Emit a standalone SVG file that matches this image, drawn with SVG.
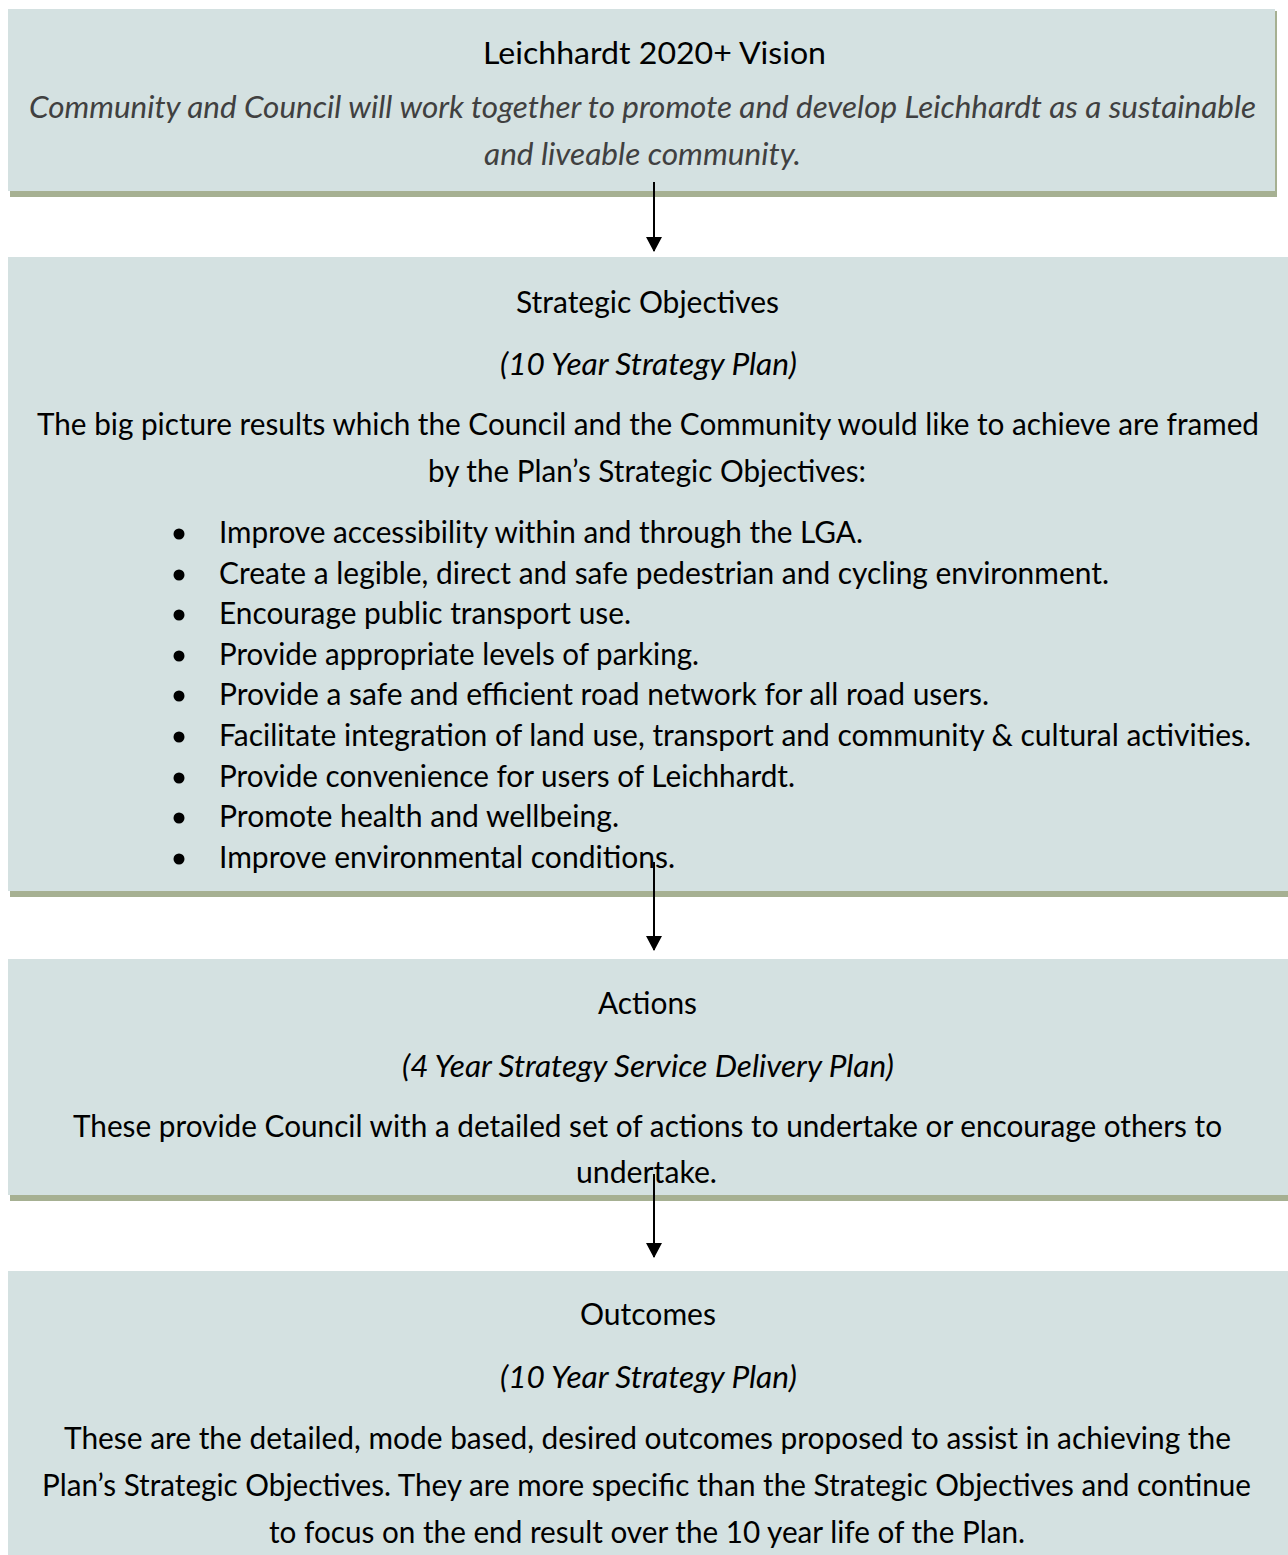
<svg xmlns="http://www.w3.org/2000/svg" width="1288" height="1555" viewBox="0 0 1288 1555">
<defs>
<style>
.box{fill:#d4e1e1}
.shadow{fill:#a6b092}
.t{font-family:Lato,"Liberation Sans",sans-serif;font-size:30px;fill:#000}
.i{font-style:italic}
.g{fill:#404040}
.conn line{stroke:#000;stroke-width:2}
</style>
<marker id="ah" markerWidth="16" markerHeight="16" refX="14" refY="8" orient="auto" markerUnits="userSpaceOnUse" viewBox="0 0 16 16">
<path d="M0,0 L15,8 L0,16 Z" fill="#000"/>
</marker>
</defs>
<rect width="1288" height="1555" fill="#fff"/>
<g id="vision">
<rect class="shadow" x="10" y="11" width="1267" height="186"/>
<rect class="box" x="8" y="9" width="1267" height="182"/>
<text class="t" x="483" y="64" textLength="343" lengthAdjust="spacingAndGlyphs">Leichhardt 2020+ Vision</text>
<text class="t i g" x="29" y="118" textLength="1227" lengthAdjust="spacingAndGlyphs">Community and Council will work together to promote and develop Leichhardt as a sustainable</text>
<text class="t i g" x="484" y="165" textLength="317" lengthAdjust="spacingAndGlyphs">and liveable community.</text>
</g>
<g id="objectives">
<rect class="shadow" x="10" y="259" width="1278" height="638"/>
<rect class="box" x="8" y="257" width="1280" height="634"/>
<text class="t" x="516" y="313" textLength="263" lengthAdjust="spacingAndGlyphs">Strategic Objectives</text>
<text class="t i" x="500" y="375" textLength="297" lengthAdjust="spacingAndGlyphs">(10 Year Strategy Plan)</text>
<text class="t" x="37" y="435" textLength="1222" lengthAdjust="spacingAndGlyphs">The big picture results which the Council and the Community would like to achieve are framed</text>
<text class="t" x="428" y="482" textLength="438" lengthAdjust="spacingAndGlyphs">by the Plan’s Strategic Objectives:</text>
<g fill="#000">
<circle cx="179" cy="534" r="5.5"/>
<circle cx="179" cy="575" r="5.5"/>
<circle cx="179" cy="615" r="5.5"/>
<circle cx="179" cy="656" r="5.5"/>
<circle cx="179" cy="696" r="5.5"/>
<circle cx="179" cy="737" r="5.5"/>
<circle cx="179" cy="778" r="5.5"/>
<circle cx="179" cy="818" r="5.5"/>
<circle cx="179" cy="859" r="5.5"/>
</g>
<text class="t" x="219" y="543" textLength="644" lengthAdjust="spacingAndGlyphs">Improve accessibility within and through the LGA.</text>
<text class="t" x="219" y="584" textLength="890" lengthAdjust="spacingAndGlyphs">Create a legible, direct and safe pedestrian and cycling environment.</text>
<text class="t" x="219" y="624" textLength="412" lengthAdjust="spacingAndGlyphs">Encourage public transport use.</text>
<text class="t" x="219" y="665" textLength="480" lengthAdjust="spacingAndGlyphs">Provide appropriate levels of parking.</text>
<text class="t" x="219" y="705" textLength="770" lengthAdjust="spacingAndGlyphs">Provide a safe and efficient road network for all road users.</text>
<text class="t" x="219" y="746" textLength="1032" lengthAdjust="spacingAndGlyphs">Facilitate integration of land use, transport and community &amp; cultural activities.</text>
<text class="t" x="219" y="787" textLength="576" lengthAdjust="spacingAndGlyphs">Provide convenience for users of Leichhardt.</text>
<text class="t" x="219" y="827" textLength="400" lengthAdjust="spacingAndGlyphs">Promote health and wellbeing.</text>
<text class="t" x="219" y="868" textLength="456" lengthAdjust="spacingAndGlyphs">Improve environmental conditions.</text>
</g>
<g id="actions">
<rect class="shadow" x="10" y="961" width="1278" height="240"/>
<rect class="box" x="8" y="959" width="1280" height="236"/>
<text class="t" x="598" y="1014" textLength="99" lengthAdjust="spacingAndGlyphs">Actions</text>
<text class="t i" x="402" y="1077" textLength="492" lengthAdjust="spacingAndGlyphs">(4 Year Strategy Service Delivery Plan)</text>
<text class="t" x="73" y="1137" textLength="1149" lengthAdjust="spacingAndGlyphs">These provide Council with a detailed set of actions to undertake or encourage others to</text>
<text class="t" x="576" y="1183" textLength="141" lengthAdjust="spacingAndGlyphs">undertake.</text>
</g>
<g id="outcomes">
<rect class="box" x="8" y="1271" width="1280" height="284"/>
<text class="t" x="580" y="1325" textLength="136" lengthAdjust="spacingAndGlyphs">Outcomes</text>
<text class="t i" x="500" y="1388" textLength="297" lengthAdjust="spacingAndGlyphs">(10 Year Strategy Plan)</text>
<text class="t" x="64" y="1449" textLength="1167" lengthAdjust="spacingAndGlyphs">These are the detailed, mode based, desired outcomes proposed to assist in achieving the</text>
<text class="t" x="42" y="1496" textLength="1209" lengthAdjust="spacingAndGlyphs">Plan’s Strategic Objectives. They are more specific than the Strategic Objectives and continue</text>
<text class="t" x="269" y="1543" textLength="756" lengthAdjust="spacingAndGlyphs">to focus on the end result over the 10 year life of the Plan.</text>
</g>
<g id="connectors" class="conn">
<line x1="654" y1="182" x2="654" y2="251" marker-end="url(#ah)"/>
<line x1="654" y1="862" x2="654" y2="950" marker-end="url(#ah)"/>
<line x1="654" y1="1174" x2="654" y2="1257" marker-end="url(#ah)"/>
</g>
</svg>
